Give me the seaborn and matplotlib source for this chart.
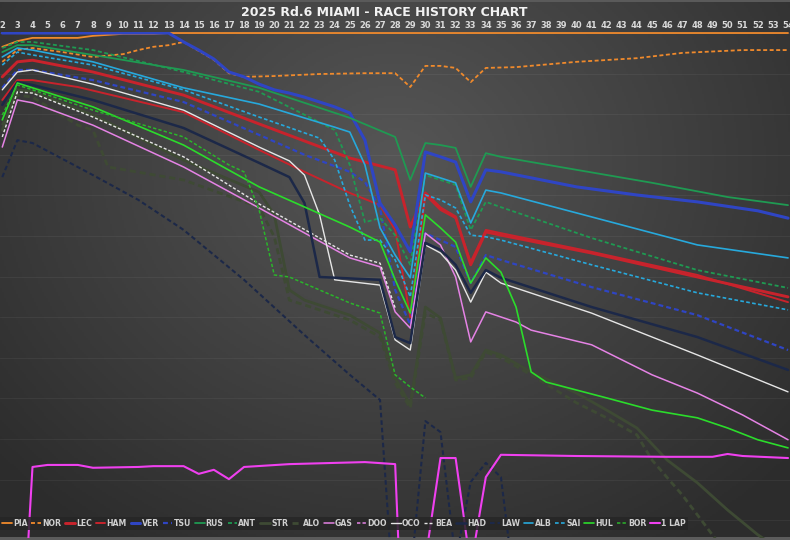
import numpy as np
import matplotlib
matplotlib.use("Agg")
import matplotlib.pyplot as plt
from matplotlib.colors import LinearSegmentedColormap
from matplotlib.lines import Line2D
from matplotlib.patches import Rectangle
import seaborn as sns

# gap to the leader in seconds, read lap by lap off the chart
pia_laps = [2, 3, 4, 7, 8, 10, 12, 13, 20, 30, 40, 54]
pia_gap = [-3.4, -2.0, -1.2, -1.2, -0.7, -0.2, -0.2, 0, 0, 0, 0, 0]

nor_laps = [2, 3, 4, 6, 8, 10, 11, 12, 13, 14, 15, 16, 17, 18, 20, 23, 26, 28, 29, 30, 31, 32, 33, 34, 36, 40, 44, 47, 51, 54]
nor_gap = [-7.1, -4.2, -3.7, -4.7, -5.9, -5.2, -4.2, -3.4, -3.0, -2.2, -4.4, -6.6, -9.9, -10.8, -10.6, -10.1, -9.9, -9.9, -13.3, -8.1, -8.1, -8.6, -12.1, -8.6, -8.4, -7.1, -6.2, -4.9, -4.2, -4.2]

lec_laps = [2, 3, 4, 8, 14, 19, 22, 25, 28, 29, 30, 31, 32, 33, 34, 35, 41, 48, 54]
lec_gap = [-10.8, -7.1, -6.7, -9.6, -15.3, -22.4, -26.6, -30.8, -33.7, -47.8, -39.4, -43.1, -45.3, -57.1, -49.0, -49.8, -54.2, -60.1, -65.0]

ham_laps = [2, 3, 4, 7, 14, 19, 22, 25, 27, 28, 29, 30, 31, 32, 33, 34, 35, 41, 48, 54]
ham_gap = [-16.5, -11.6, -11.6, -13.3, -19.5, -28.8, -34.2, -39.4, -42.4, -48.5, -70.0, -39.9, -43.6, -45.6, -56.4, -48.5, -49.3, -53.9, -59.6, -66.3]

ver_laps = [2, 13, 14, 15, 16, 17, 18, 19, 20, 21, 22, 23, 24, 25, 26, 27, 28, 29, 30, 31, 32, 33, 34, 35, 40, 44, 48, 52, 54]
ver_gap = [0, 0, -2.2, -4.2, -6.4, -9.6, -10.8, -12.6, -14.0, -14.8, -15.8, -17.0, -18.2, -19.7, -26.4, -41.9, -47.3, -53.9, -29.3, -30.5, -31.8, -41.6, -33.7, -34.2, -37.9, -39.9, -41.6, -43.8, -45.6]

tsu_laps = [2, 3, 4, 8, 14, 19, 22, 25, 26, 27, 28, 29, 30, 31, 32, 33, 34, 35, 41, 48, 54]
tsu_gap = [-13.5, -9.1, -9.1, -11.6, -17.0, -25.1, -30.0, -34.2, -36.7, -43.1, -63.3, -71.9, -49.3, -51.0, -52.7, -61.6, -54.7, -55.9, -62.6, -69.5, -78.1]

rus_laps = [2, 3, 4, 8, 14, 19, 25, 28, 29, 30, 31, 32, 33, 34, 35, 40, 45, 50, 54]
rus_gap = [-4.7, -3.0, -3.0, -5.4, -9.1, -13.5, -20.9, -25.6, -36.2, -27.1, -27.6, -28.3, -37.9, -29.6, -30.5, -33.7, -36.9, -40.4, -42.4]

ant_laps = [2, 3, 4, 8, 14, 19, 24, 25, 26, 27, 28, 29, 30, 31, 32, 33, 34, 35, 41, 48, 54]
ant_gap = [-3.7, -2.2, -2.2, -4.2, -9.6, -14.5, -23.9, -32.5, -46.6, -45.6, -49.8, -57.1, -35.0, -36.2, -37.4, -48.5, -41.6, -42.9, -50.5, -58.4, -62.8]

str_laps = [2, 3, 4, 8, 14, 19, 20, 21, 22, 25, 27, 28, 29, 30, 31, 32, 33, 34, 35, 37, 40, 42, 44, 46, 48, 50, 52, 54]
str_gap = [-23.9, -14.0, -14.5, -20.2, -31.3, -39.2, -44.8, -63.3, -65.8, -69.5, -73.9, -85.0, -91.6, -67.5, -70.2, -85.0, -84.2, -78.1, -79.3, -83.5, -88.7, -92.9, -97.3, -105.2, -110.8, -117.5, -123.6, -128.6]

alo_laps = [2, 3, 4, 7, 8, 9, 14, 19, 20, 21, 22, 25, 27, 28, 29, 30, 31, 32, 33, 34, 35, 37, 40, 42, 44, 45, 47, 48, 50, 52, 54]
alo_gap = [-22.7, -15.3, -15.8, -22.7, -23.9, -33.0, -36.2, -42.9, -50.2, -65.8, -67.0, -70.7, -74.9, -86.2, -92.4, -69.0, -70.7, -85.5, -85.0, -78.6, -80.0, -84.2, -91.1, -94.8, -99.0, -105.2, -113.8, -118.7, -128.6, -137.2, -144.6]

gas_laps = [2, 3, 4, 8, 14, 19, 25, 27, 28, 29, 30, 31, 32, 33, 34, 36, 37, 41, 45, 48, 51, 54]
gas_gap = [-28.1, -16.5, -17.2, -22.7, -33.0, -43.1, -55.4, -57.6, -68.7, -72.7, -49.3, -52.2, -60.1, -76.1, -68.7, -71.2, -73.2, -76.8, -84.2, -88.7, -94.1, -100.2]

oco_laps = [2, 3, 4, 8, 14, 19, 21, 22, 23, 24, 27, 28, 29, 30, 31, 32, 33, 34, 35, 41, 48, 54]
oco_gap = [-14.0, -9.6, -9.1, -12.6, -19.0, -28.1, -31.5, -35.0, -44.8, -60.8, -62.1, -75.6, -78.1, -52.2, -54.2, -58.4, -66.3, -58.9, -61.6, -69.0, -79.3, -88.4]

bea_laps = [2, 3, 4, 8, 14, 19, 25, 27, 28]
bea_gap = [-25.6, -14.5, -14.8, -20.7, -30.5, -42.1, -54.7, -56.7, -67.7]

had_laps = [2, 3, 4, 8, 14, 19, 21, 22, 23, 27, 28, 29, 30, 31, 32, 33, 34, 35, 41, 48, 54]
had_gap = [-17.7, -12.1, -12.8, -16.5, -23.4, -32.0, -35.5, -41.9, -60.1, -60.8, -74.9, -76.4, -51.7, -53.4, -57.1, -64.0, -58.4, -60.3, -67.5, -74.9, -83.0]

law_laps = [2, 3, 4, 8, 11, 14, 18, 22, 25, 27, 28, 29, 30, 31, 32, 33, 34, 35, 36]
law_gap = [-35.5, -26.4, -27.1, -35.0, -41.1, -48.5, -60.8, -74.4, -84.2, -90.4, -144.6, -134.7, -95.6, -98.3, -129.8, -110.6, -105.9, -109.4, -139.7]

alb_laps = [2, 3, 4, 8, 14, 19, 24, 25, 26, 27, 28, 29, 30, 31, 32, 33, 34, 35, 41, 48, 54]
alb_gap = [-5.9, -3.7, -4.2, -7.1, -13.5, -17.5, -23.2, -24.4, -32.5, -48.0, -54.7, -60.3, -34.5, -35.7, -36.9, -46.8, -38.7, -39.4, -45.3, -52.2, -55.4]

sai_laps = [2, 3, 4, 8, 14, 19, 23, 24, 25, 26, 27, 28, 29, 30, 31, 32, 33, 34, 35, 41, 48, 54]
sai_gap = [-7.9, -4.7, -5.4, -7.9, -14.0, -20.7, -25.9, -31.3, -42.4, -51.0, -51.0, -55.9, -65.0, -39.9, -41.1, -43.1, -49.8, -50.2, -51.0, -57.1, -64.0, -68.2]

hul_laps = [2, 3, 4, 8, 14, 19, 25, 27, 28, 29, 30, 31, 32, 33, 34, 35, 36, 37, 38, 42, 45, 48, 50, 52, 54]
hul_gap = [-21.4, -12.3, -13.5, -18.2, -27.6, -37.9, -47.8, -51.5, -60.8, -69.0, -44.8, -48.0, -51.5, -61.6, -55.4, -58.9, -67.5, -83.5, -86.0, -89.9, -92.9, -94.8, -97.3, -100.2, -102.2]

bor_laps = [2, 3, 4, 8, 14, 17, 18, 19, 20, 21, 25, 27, 28, 29, 30]
bor_gap = [-20.2, -12.8, -14.0, -19.0, -25.6, -32.5, -34.2, -43.6, -59.6, -60.1, -66.5, -69.0, -84.2, -87.2, -89.9]

lap_laps = [3, 4, 5, 7, 8, 11, 12, 14, 15, 16, 17, 18, 21, 24, 26, 28, 29, 30, 31, 32, 33, 34, 35, 40, 46, 49, 50, 51, 54]
lap_gap = [-171.7, -106.9, -106.4, -106.4, -107.1, -106.9, -106.7, -106.7, -108.6, -107.6, -109.9, -106.9, -106.2, -105.9, -105.7, -106.2, -196.3, -129.8, -104.7, -104.7, -131.5, -109.4, -103.9, -104.2, -104.4, -104.4, -103.7, -104.2, -104.7]

dash = (0, (2.2, 1.4))
series = [
    ("PIA", pia_laps, pia_gap, "#f08a2c", "-", 1.3),
    ("NOR", nor_laps, nor_gap, "#f08a2c", dash, 1.3),
    ("LEC", lec_laps, lec_gap, "#c8232c", "-", 2.1),
    ("HAM", ham_laps, ham_gap, "#c8232c", "-", 1.4),
    ("VER", ver_laps, ver_gap, "#2f45c4", "-", 2.2),
    ("TSU", tsu_laps, tsu_gap, "#2f45c4", dash, 1.6),
    ("RUS", rus_laps, rus_gap, "#1f9a52", "-", 1.3),
    ("ANT", ant_laps, ant_gap, "#1f9a52", dash, 1.3),
    ("STR", str_laps, str_gap, "#3e4a34", "-", 2.0),
    ("ALO", alo_laps, alo_gap, "#3e4a34", dash, 2.0),
    ("GAS", gas_laps, gas_gap, "#e583e5", "-", 1.1),
    ("DOO", None, None, "#e583e5", dash, 1.1),
    ("OCO", oco_laps, oco_gap, "#e6e6e6", "-", 1.0),
    ("BEA", bea_laps, bea_gap, "#e6e6e6", dash, 1.0),
    ("HAD", had_laps, had_gap, "#1c2848", "-", 1.8),
    ("LAW", law_laps, law_gap, "#1c2848", dash, 1.5),
    ("ALB", alb_laps, alb_gap, "#27a9dc", "-", 1.2),
    ("SAI", sai_laps, sai_gap, "#27a9dc", dash, 1.2),
    ("HUL", hul_laps, hul_gap, "#2bdc2b", "-", 1.2),
    ("BOR", bor_laps, bor_gap, "#2bb52b", dash, 1.1),
    ("1 LAP", lap_laps, lap_gap, "#f040f0", "-", 1.5),
]

sns.set_style("dark")
plt.rcParams["font.family"] = ["DejaVu Sans"]

fig = plt.figure(figsize=(7.9, 5.4), dpi=100)

# dark radial background
bg = fig.add_axes([0, 0, 1, 1], zorder=-10)
yy, xx = np.mgrid[0:1:270j, 0:1:395j]
dist = np.hypot((xx - 0.5) / 0.8, (yy - 0.3) / 1.0)
cmap = LinearSegmentedColormap.from_list("bg", ["#565656", "#2c2c2c"])
bg.imshow(dist, cmap=cmap, aspect="auto", extent=(0, 1, 0, 1), vmin=0, vmax=0.85)
bg.set_xlim(0, 1)
bg.set_ylim(0, 1)
# thin lighter strips at the top and bottom edge
bg.add_patch(Rectangle((0, 0), 1, 3 / 540, color="#5c5c5c", lw=0))
bg.add_patch(Rectangle((0, 1 - 2 / 540), 1, 2 / 540, color="#5a5a5a", lw=0))
bg.set_axis_off()

ax = fig.add_axes([0, 2 / 540, 1, 506 / 540])
ax.set_facecolor("none")

handles = []
for name, laps, gap, col, ls, lw in series:
    if laps is None:
        handles.append(Line2D([], [], color=col, linestyle=ls, linewidth=lw))
        continue
    sns.lineplot(x=laps, y=gap, ax=ax, color=col, linestyle=ls, linewidth=lw,
                 legend=False, errorbar=None)
    handles.append(ax.lines[-1])

ax.set_xlim(1.85, 54.13)
ax.set_ylim(-124.4, 0.25)
ax.set_xlabel("")
ax.set_ylabel("")
ax.xaxis.tick_top()
ax.set_xticks(range(2, 55))
ax.tick_params(axis="x", length=0, pad=1.2, labelsize=6.0, labelcolor="#dadada")
for t in ax.get_xticklabels():
    t.set_fontweight("bold")
ax.set_yticks(np.arange(-120, 0.1, 10))
ax.tick_params(axis="y", length=0, labelleft=False)
ax.grid(axis="y", color="white", alpha=0.05, lw=0.8)
ax.grid(axis="x", visible=False)
for s in ax.spines.values():
    s.set_visible(False)

leg = ax.legend(handles, [s[0] for s in series], ncol=21, loc="lower left",
                bbox_to_anchor=(0, 0.016), borderaxespad=0, frameon=True,
                fancybox=False, facecolor="#262626", edgecolor="none",
                framealpha=0.85, prop={"size": 5.6, "weight": "bold"},
                labelcolor="#d0d0d0", handlelength=1.25, handletextpad=0.15,
                columnspacing=0.5, borderpad=0.25)

fig.text(0.486, 0.977, "2025 Rd.6 MIAMI - RACE HISTORY CHART", ha="center",
         va="center", color="#f2f2f2", fontsize=9, fontweight="bold")

fig.savefig("out.png", dpi=100)
